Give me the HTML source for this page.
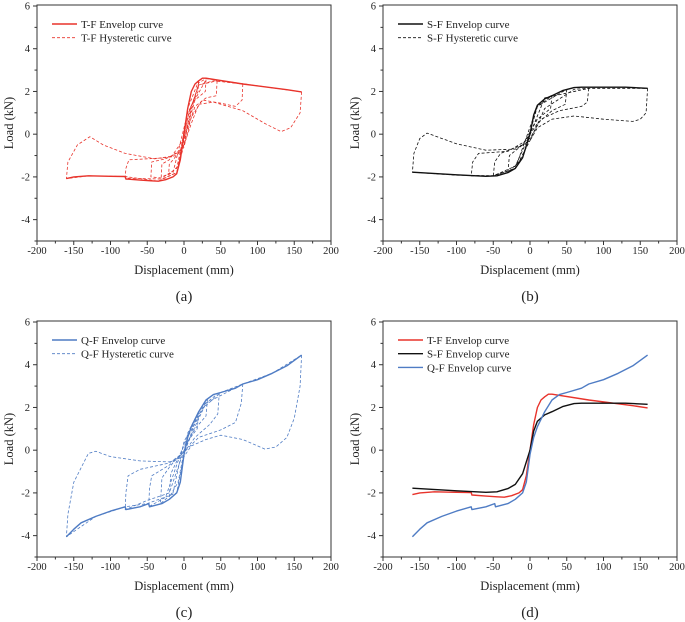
<!DOCTYPE html>
<html><head><meta charset="utf-8"><style>
html,body{margin:0;padding:0;background:#fff;}
svg{display:block;font-family:"Liberation Serif",serif;}
</style></head><body>
<svg id="fig" width="685" height="622" viewBox="0 0 685 622"></svg>
<script>
const xTicks=[-200,-150,-100,-50,0,50,100,150,200];
const yTicks=[-4,-2,0,2,4,6];
const tfEnvelope=[[-160,-2.08],[-150,-2.0],[-130,-1.95],[-100,-1.97],[-80,-1.98],[-79,-2.1],[-60,-2.15],[-45,-2.18],[-35,-2.2],[-25,-2.13],[-15,-2.0],[-10,-1.85],[-5,-1.2],[0,0],[5,1.2],[10,2.0],[15,2.35],[20,2.5],[25,2.62],[30,2.62],[80,2.35],[140,2.08],[160,1.98]];
const tfLoops=[
[[160,1.98],[158,1.0],[145,0.3],[132,0.12],[110,0.5],[80,1.1],[40,1.5],[20,1.4],[10,0.5],[0,-0.5],[-10,-1.0],[-40,-1.15],[-80,-0.9],[-110,-0.5],[-128,-0.12],[-145,-0.5],[-158,-1.3],[-160,-2.08],[-130,-1.95],[-80,-1.98],[-35,-2.2],[-10,-1.8],[5,0.5],[20,2.4],[30,2.6],[160,1.98]],
[[80,2.35],[79,1.6],[70,1.3],[50,1.45],[25,1.6],[10,0.8],[0,-0.6],[-20,-1.1],[-50,-1.15],[-75,-1.2],[-79,-1.6],[-80,-2.05],[-60,-2.08],[-30,-2.1],[-10,-1.8],[0,-0.5],[10,1.3],[20,2.3],[40,2.5],[80,2.35]],
[[45,2.5],[44,1.8],[30,1.7],[15,1.3],[5,0.3],[-5,-0.8],[-25,-1.15],[-44,-1.3],[-45,-2.0],[-30,-2.05],[-10,-1.6],[5,0.8],[20,2.3],[45,2.5]],
[[30,2.55],[29,2.0],[15,1.6],[0,-0.2],[-20,-1.2],[-30,-1.4],[-31,-2.0],[-15,-1.8],[5,1.0],[30,2.55]],
[[20,2.5],[19,2.0],[8,1.2],[-5,-0.8],[-20,-1.4],[-21,-1.9],[-8,-1.5],[5,1.2],[20,2.5]]];
const sfEnvelope=[[-160,-1.78],[-100,-1.9],[-60,-1.97],[-45,-1.95],[-30,-1.8],[-20,-1.6],[-10,-1.1],[0,0],[5,0.9],[10,1.35],[20,1.65],[30,1.8],[45,2.05],[60,2.18],[70,2.2],[130,2.2],[160,2.15]];
const sfLoops=[
[[160,2.15],[158,1.0],[150,0.7],[140,0.6],[100,0.7],[60,0.85],[30,0.7],[10,0.3],[0,-0.3],[-20,-0.7],[-60,-0.75],[-100,-0.45],[-140,0.05],[-150,-0.2],[-158,-0.9],[-160,-1.78],[-100,-1.92],[-50,-1.95],[-20,-1.6],[0,-0.3],[20,1.2],[60,2.1],[80,2.15],[160,2.15]],
[[80,2.15],[78,1.5],[70,1.3],[40,1.1],[15,0.7],[0,-0.2],[-30,-0.8],[-70,-0.9],[-78,-1.3],[-80,-1.95],[-50,-1.95],[-20,-1.5],[0,0],[20,1.7],[80,2.15]],
[[50,2.1],[48,1.4],[30,1.1],[10,0.5],[-10,-0.5],[-40,-0.9],[-48,-1.3],[-50,-1.95],[-20,-1.6],[10,1.3],[50,2.1]],
[[30,1.8],[28,1.2],[10,0.7],[-10,-0.5],[-28,-1.0],[-30,-1.8],[-10,-1.1],[10,1.3],[30,1.8]]];
const qfEnvelope=[[-160,-4.05],[-150,-3.7],[-140,-3.4],[-120,-3.1],[-100,-2.85],[-80,-2.65],[-79,-2.78],[-60,-2.65],[-48,-2.5],[-47,-2.65],[-30,-2.5],[-20,-2.3],[-10,-2.0],[-5,-1.5],[0,-0.2],[5,0.6],[10,1.1],[20,1.8],[30,2.35],[40,2.6],[50,2.7],[70,2.9],[80,3.1],[100,3.3],[120,3.6],[140,3.95],[160,4.45]];
const qfLoops=[
[[160,4.45],[158,3.0],[150,1.5],[140,0.6],[125,0.15],[110,0.05],[80,0.5],[50,0.7],[30,0.5],[10,0.2],[0,-0.3],[-20,-0.55],[-60,-0.5],[-100,-0.3],[-120,-0.05],[-130,-0.15],[-150,-1.5],[-158,-3.0],[-160,-4.05],[-120,-3.1],[-80,-2.65],[-50,-2.5],[-10,-2.0],[0,-0.2],[20,1.8],[50,2.7],[80,3.1],[120,3.6],[160,4.45]],
[[80,3.1],[78,2.2],[70,1.3],[50,0.95],[20,0.6],[0,-0.1],[-20,-0.6],[-60,-0.9],[-76,-1.2],[-79,-2.0],[-80,-2.78],[-50,-2.35],[-20,-2.0],[0,0],[30,2.2],[80,3.1]],
[[48,2.7],[46,1.7],[35,1.2],[15,0.6],[0,-0.1],[-20,-0.7],[-44,-1.2],[-47,-1.8],[-48,-2.65],[-25,-2.2],[0,0.3],[30,2.2],[48,2.7]],
[[32,2.4],[30,1.6],[15,1.0],[0,0],[-20,-0.8],[-30,-1.3],[-32,-2.5],[-15,-2.0],[0,0.4],[32,2.4]],
[[20,1.8],[18,1.0],[0,0.2],[-18,-1.1],[-20,-2.2],[-8,-1.5],[5,0.8],[20,1.8]]];

const NS='http://www.w3.org/2000/svg';
const svg=document.getElementById('fig');
function mk(tag,attrs,parent){const e=document.createElementNS(NS,tag);for(const k in attrs)e.setAttribute(k,attrs[k]);(parent||svg).appendChild(e);return e;}
const RED='#e8332b',BLK='#111',BLUE='#4f7cc4';

function panel(id,ox,oy,caption,curves,legend){
  const L=ox+37,R=ox+331,T=oy+5,B=oy+241;
  const y6=oy+6,yM5=oy+241;
  const sx=v=>L+(v+200)/400*(R-L);
  const sy=v=>y6+(6-v)/11*(yM5-y6);
  const g=mk('g',{});
  
  
  const box=mk('rect',{x:L,y:T,width:R-L,height:B-T,fill:'none',stroke:'#333','stroke-width':1},g);
  
  
  xTicks.forEach((t,i)=>{
    const x=sx(t);
    mk('line',{x1:x,x2:x,y1:B,y2:B+4,stroke:'#333','stroke-width':1},g);
    if(i<xTicks.length-1){const xm=sx(t+25);mk('line',{x1:xm,x2:xm,y1:B,y2:B+2.5,stroke:'#333','stroke-width':1},g);}
    const tx=mk('text',{x:x,y:B+13,'font-size':10.5,'text-anchor':'middle',fill:'#222'},g);
    tx.textContent=t;
    
    
  });
  yTicks.forEach(t=>{
    const y=sy(t);
    mk('line',{x1:L-4,x2:L,y1:y,y2:y,stroke:'#333','stroke-width':1},g);
    const ym=sy(t-1);mk('line',{x1:L-2.5,x2:L,y1:ym,y2:ym,stroke:'#333','stroke-width':1},g);
    const ty=mk('text',{x:L-7,y:y+3.5,'font-size':10.5,'text-anchor':'end',fill:'#222'},g);
    ty.textContent=t;
    
    
  });
  const xt=mk('text',{x:(L+R)/2,y:oy+274,'font-size':12.5,'text-anchor':'middle',fill:'#222'},g);
  xt.textContent='Displacement (mm)';
  
  
  const yt=mk('text',{x:0,y:0,'font-size':12.5,'text-anchor':'middle',fill:'#222',transform:`translate(${ox+13},${(T+B)/2}) rotate(-90)`},g);
  yt.textContent='Load (kN)';
  
  
  const cp=mk('text',{x:(L+R)/2,y:oy+301,'font-size':15,'text-anchor':'middle',fill:'#222'},g);
  cp.textContent=caption;
  
  
  curves.forEach(c=>{
    const d=c.pts.map((p,i)=>(i?'L':'M')+sx(p[0]).toFixed(1)+','+sy(p[1]).toFixed(1)).join(' ');
    const a={d:d,fill:'none',stroke:c.color,'stroke-width':c.dash?0.8:1.4,'stroke-linejoin':'round'};
    if(c.dash)a['stroke-dasharray']='3,2';
    const p=mk('path',a,g);
    
    
  });
  legend.forEach((l,i)=>{
    const y=oy+24+i*13.7;
    const a={x1:L+15,x2:L+40,y1:y,y2:y,stroke:l.color,'stroke-width':l.dash?0.8:1.4};
    if(l.dash)a['stroke-dasharray']='3,2';
    const ln=mk('line',a,g);
    
    
    const tx=mk('text',{x:L+44,y:y+4,'font-size':11,fill:'#222'},g);
    tx.textContent=l.text;
    
    
  });
}
function loops(arr,color,prefix){return arr.map((pts,i)=>({pts:pts,color:color,dash:true,name:prefix+'-hysteretic-loop-'+(i+1)}));}
panel('a',0,0,'(a)',[...loops(tfLoops,RED,'tf'),{pts:tfEnvelope,color:RED,name:'tf-envelope-curve'}],
 [{text:'T-F Envelop curve',color:RED},{text:'T-F Hysteretic curve',color:RED,dash:true}]);
panel('b',346,0,'(b)',[...loops(sfLoops,BLK,'sf'),{pts:sfEnvelope,color:BLK,name:'sf-envelope-curve'}],
 [{text:'S-F Envelop curve',color:BLK},{text:'S-F Hysteretic curve',color:BLK,dash:true}]);
panel('c',0,316,'(c)',[...loops(qfLoops,BLUE,'qf'),{pts:qfEnvelope,color:BLUE,name:'qf-envelope-curve'}],
 [{text:'Q-F Envelop curve',color:BLUE},{text:'Q-F Hysteretic curve',color:BLUE,dash:true}]);
panel('d',346,316,'(d)',[{pts:tfEnvelope,color:RED,name:'tf-envelope-curve'},{pts:sfEnvelope,color:BLK,name:'sf-envelope-curve'},{pts:qfEnvelope,color:BLUE,name:'qf-envelope-curve'}],
 [{text:'T-F Envelop curve',color:RED},{text:'S-F Envelop curve',color:BLK},{text:'Q-F Envelop curve',color:BLUE}]);
</script>
</body></html>
